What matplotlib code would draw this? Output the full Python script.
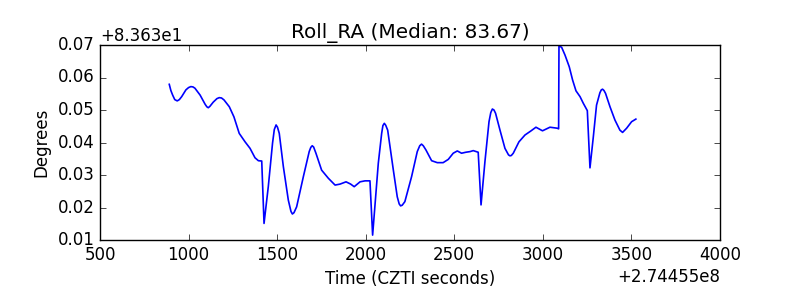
import numpy as np
import matplotlib
matplotlib.use("Agg")
import matplotlib.pyplot as plt

# времена относительно 2.74455e8 и отклонения от 83.63
t0 = 274455000.0
roll0 = 83.63
t_rel = [891, 900, 910, 922, 936, 948, 961, 985, 1000, 1013, 1025, 1036, 1065, 1093,
         1103, 1111, 1120, 1139, 1160, 1173, 1186, 1200, 1230, 1256, 1286, 1319,
         1347, 1375, 1394, 1413, 1426, 1450, 1474, 1484, 1494, 1502, 1512, 1535,
         1563, 1578, 1586, 1595, 1610, 1648, 1681, 1690, 1698, 1706, 1719, 1751,
         1789, 1827, 1855, 1889, 1915, 1935, 1968, 1996, 2024, 2039, 2071, 2090,
         2097, 2105, 2113, 2124, 2156, 2178, 2189, 2197, 2206, 2221, 2259, 2291,
         2305, 2315, 2325, 2340, 2372, 2404, 2437, 2466, 2494, 2517, 2541, 2565,
         2589, 2607, 2635, 2651, 2673, 2696, 2706, 2715, 2724, 2733, 2758, 2786,
         2806, 2814, 2822, 2833, 2865, 2899, 2931, 2961, 2998, 3040, 3081, 3089,
         3091, 3106, 3125, 3149, 3168, 3187, 3210, 3228, 3251, 3266, 3285, 3303,
         3322, 3330, 3337, 3345, 3354, 3379, 3407, 3435, 3450, 3473, 3501, 3525]
roll_rel = [0.0579, 0.0560, 0.0546, 0.0532, 0.0528, 0.0532, 0.0541, 0.0562, 0.0569,
            0.0572, 0.0571, 0.0567, 0.0546, 0.0518, 0.0510, 0.0507, 0.0511, 0.0524,
            0.0535, 0.0538, 0.0537, 0.0531, 0.0510, 0.0479, 0.0428, 0.0402, 0.0382,
            0.0353, 0.0344, 0.0343, 0.0151, 0.0264, 0.0398, 0.0440, 0.0454, 0.0447,
            0.0428, 0.0326, 0.0223, 0.0188, 0.0180, 0.0184, 0.0202, 0.0295, 0.0372,
            0.0385, 0.0390, 0.0386, 0.0367, 0.0315, 0.0290, 0.0269, 0.0272, 0.0279,
            0.0272, 0.0264, 0.0279, 0.0282, 0.0282, 0.0115, 0.0336, 0.0428, 0.0452,
            0.0459, 0.0453, 0.0438, 0.0315, 0.0233, 0.0211, 0.0205, 0.0207, 0.0218,
            0.0295, 0.0372, 0.0390, 0.0395, 0.0390, 0.0377, 0.0344, 0.0338, 0.0338,
            0.0348, 0.0367, 0.0374, 0.0367, 0.0370, 0.0372, 0.0375, 0.0370, 0.0208,
            0.0341, 0.0464, 0.0492, 0.0503, 0.0500, 0.0490, 0.0438, 0.0382, 0.0362,
            0.0359, 0.0360, 0.0367, 0.0402, 0.0423, 0.0435, 0.0447, 0.0436, 0.0447,
            0.0444, 0.0442, 0.0697, 0.0693, 0.0669, 0.0633, 0.0592, 0.0559, 0.0541,
            0.0521, 0.0498, 0.0322, 0.0418, 0.0515, 0.0553, 0.0562, 0.0564, 0.0560,
            0.0551, 0.0510, 0.0469, 0.0438, 0.0431, 0.0444, 0.0464, 0.0472]

t = t0 + np.array(t_rel, dtype=float)
roll = roll0 + np.array(roll_rel)

plt.style.use('classic')
fig = plt.figure(figsize=(8, 3), dpi=100)
fig.patch.set_facecolor('white')
ax = fig.add_axes([0.125, 0.2, 0.775, 0.65])
ax.plot(t, roll, color='b', lw=1.2)

ax.set_xlim(t0 + 500, t0 + 4000)
ax.set_ylim(roll0 + 0.01, roll0 + 0.07)
ax.set_xticks(t0 + np.arange(500, 4001, 500))
ax.set_yticks(roll0 + np.arange(0.01, 0.0701, 0.01))
ax.xaxis.get_major_formatter().set_useOffset(t0)
ax.yaxis.get_major_formatter().set_useOffset(roll0)

ax.set_title("Roll_RA (Median: 83.67)")
ax.set_xlabel("Time (CZTI seconds)")
ax.set_ylabel("Degrees")

plt.savefig("out.png", dpi=100, facecolor='white')
